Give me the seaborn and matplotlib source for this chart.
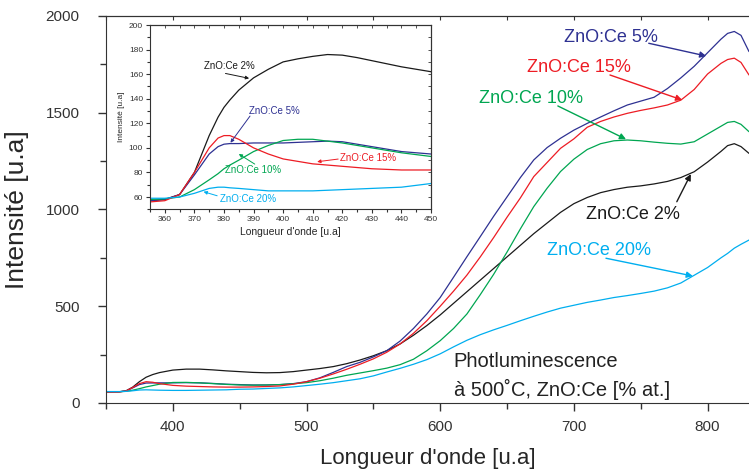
import numpy as np
import pandas as pd
import seaborn as sns
import matplotlib.pyplot as plt
from matplotlib.ticker import MultipleLocator

# wavelength grid
wl = [350, 360, 365, 370, 375, 380, 385, 390, 400, 410, 420, 430, 440, 450, 460, 470, 480, 490,
      500, 510, 520, 530, 540, 550, 560, 570, 580, 590, 600, 610, 620, 630, 640, 650, 660, 670,
      680, 690, 700, 710, 720, 730, 740, 750, 760, 770, 780, 790, 800, 810, 815, 820, 825, 831]

ce2 = [57, 58, 63, 82, 110, 133, 147, 157, 170, 175, 175, 171, 166, 162, 158, 156, 157, 162,
       170, 178, 188, 203, 222, 244, 270, 305, 350, 400, 455, 515, 575, 635, 695, 755, 815, 875,
       930, 985, 1030, 1062, 1087, 1103, 1115, 1122, 1132, 1145, 1165, 1195, 1245, 1300, 1330, 1340, 1325, 1290]
ce5 = [57, 58, 62, 78, 95, 103, 103.5, 104, 104, 105, 104, 101, 97, 95, 93, 93, 95, 100,
       110, 130, 158, 188, 210, 238, 270, 320, 385, 460, 545, 650, 756, 860, 965, 1065, 1165, 1256,
       1320, 1368, 1410, 1445, 1478, 1510, 1540, 1560, 1580, 1625, 1680, 1740, 1810, 1880, 1910, 1920, 1900, 1816]
ce10 = [58, 58.5, 60, 66, 74, 83, 90, 97, 106, 106.5, 104, 100, 96, 93, 92, 93, 95, 99,
        105, 115, 128, 143, 155, 167, 180, 198, 226, 270, 322, 385, 460, 560, 665, 780, 900, 1015,
        1110, 1196, 1260, 1310, 1340, 1355, 1359, 1355, 1348, 1342, 1338, 1350, 1390, 1430, 1450, 1455, 1440, 1402]
ce15 = [56, 57, 62, 80, 100, 110, 107, 100, 91, 87, 85, 83, 82, 82, 83, 85, 88, 97,
        110, 128, 150, 174, 200, 228, 262, 305, 360, 425, 500, 578, 661, 755, 855, 960, 1060, 1170,
        1243, 1316, 1365, 1425, 1455, 1478, 1497, 1512, 1525, 1540, 1565, 1620, 1700, 1755, 1775, 1782, 1760, 1695]
ce20 = [59, 59, 60, 63, 67, 68, 67, 66, 65, 65, 66, 67, 68, 71, 72, 75, 78, 83,
        90, 97, 105, 115, 125, 140, 160, 179, 200, 224, 254, 290, 324, 353, 378, 401, 425, 448,
        470, 490, 505, 520, 532, 545, 555, 566, 578, 595, 620, 660, 700, 750, 773, 800, 820, 842]

# zoomed inset (355-450 nm)
wl_in = [355, 360, 365, 370, 375, 378, 380, 382, 385, 390, 395, 400, 405, 410, 415, 420, 425, 430, 435, 440, 445, 450]
in2 = [57, 58, 62, 80, 110, 125, 133, 139, 147, 157, 164, 170, 172.5, 174.5, 176, 175.5, 173.5, 171, 168.5, 166, 164, 162]
in5 = [57, 58, 62, 78, 95, 101, 103, 103.5, 103.5, 104, 104, 104, 104.5, 105, 105.5, 105, 103, 101, 99, 97, 96, 95]
in10 = [58, 58.5, 60, 66, 74, 79, 83, 86, 90, 97, 102, 106, 107, 107, 105.5, 104, 102, 100, 98, 96, 94.5, 93]
in15 = [56, 57, 62, 80, 100, 108, 110, 110, 107, 100, 95, 91, 89, 87, 86, 85, 84, 83, 82.5, 82, 82, 82]
in20 = [59, 59, 60, 63, 67, 68, 68, 67.5, 67, 66, 65, 65, 65, 65, 65.5, 66, 66.5, 67, 67.5, 68, 69.5, 71]

labels = ['ZnO:Ce 2%', 'ZnO:Ce 5%', 'ZnO:Ce 10%', 'ZnO:Ce 15%', 'ZnO:Ce 20%']
colors = ['#1a1a1a', '#2e3192', '#00a651', '#ed1c24', '#00aeef']

main_df = pd.DataFrame({'wl': wl * 5, 'I': ce2 + ce5 + ce10 + ce15 + ce20,
                        'sample': np.repeat(labels, len(wl))})
inset_df = pd.DataFrame({'wl': wl_in * 5, 'I': in2 + in5 + in10 + in15 + in20,
                         'sample': np.repeat(labels, len(wl_in))})

sns.set_style('ticks')
plt.rcParams['font.family'] = ['Liberation Sans', 'DejaVu Sans']
plt.rcParams['axes.edgecolor'] = '#333333'
plt.rcParams['xtick.color'] = '#333333'
plt.rcParams['ytick.color'] = '#333333'

fig = plt.figure(figsize=(7.49, 4.70), dpi=100)
ax = fig.add_axes([0.1415, 0.1426, 0.8585, 0.8234])
palette = dict(zip(labels, colors))

sns.lineplot(data=main_df, x='wl', y='I', hue='sample', palette=palette, lw=0.9, legend=False, ax=ax)
ax.set_xlim(350, 831)
ax.set_ylim(0, 2000)
ax.xaxis.set_major_locator(MultipleLocator(100))
ax.xaxis.set_minor_locator(MultipleLocator(50))
ax.yaxis.set_major_locator(MultipleLocator(500))
ax.yaxis.set_minor_locator(MultipleLocator(250))
ax.tick_params(which='major', direction='out', length=6, width=1, labelsize=11, pad=6)
ax.tick_params(which='minor', direction='out', length=4, width=1)
ax.tick_params(axis='y', pad=13)
ax.spines['right'].set_visible(False)
ax.set_xlabel("Longueur d'onde [u.a]", fontsize=16, labelpad=10)
ax.set_ylabel('Intensité [u.a]', fontsize=19, labelpad=12)
top = ax.secondary_xaxis('top')
top.xaxis.set_major_locator(MultipleLocator(50))
top.tick_params(direction='in', length=3, labeltop=False)

# main annotations: (text x, text baseline y, arrow start, arrow end)
ann_main = [
    ('ZnO:Ce 5%', 692.5, 1867, (756, 1859), (799, 1793), colors[1]),
    ('ZnO:Ce 15%', 665, 1712, (727, 1695), (781, 1566), colors[3]),
    ('ZnO:Ce 10%', 629, 1549, (688, 1535), (739, 1363), colors[2]),
    ('ZnO:Ce 2%', 709, 949, (777, 1040), (787.5, 1183), colors[0]),
    ('ZnO:Ce 20%', 680, 765, (724, 748), (789, 656), colors[4]),
]
for txt, tx, ty, a0, a1, c in ann_main:
    ax.text(tx, ty, txt, color=c, fontsize=13, ha='left', va='baseline')
    ax.annotate('', xy=a1, xytext=a0,
                arrowprops=dict(arrowstyle='-|>', color=c, lw=1, mutation_scale=9, shrinkA=0, shrinkB=0))

ax.text(610, 184, 'Photluminescence', fontsize=14.5, color='#222222', va='baseline')
ax.text(610, 36, 'à 500˚C, ZnO:Ce [% at.]', fontsize=14.5, color='#222222', va='baseline')

# inset
ins = fig.add_axes([0.2003, 0.5547, 0.3752, 0.392])
sns.lineplot(data=inset_df, x='wl', y='I', hue='sample', palette=palette, lw=0.9, legend=False, ax=ins)
ins.set_xlim(355, 450)
ins.set_ylim(50, 200)
ins.xaxis.set_major_locator(MultipleLocator(10))
ins.xaxis.set_minor_locator(MultipleLocator(5))
ins.yaxis.set_major_locator(MultipleLocator(20))
ins.yaxis.set_minor_locator(MultipleLocator(10))
ins.tick_params(which='major', direction='out', length=3, width=0.8, labelsize=6, pad=2)
ins.tick_params(which='minor', direction='out', length=2, width=0.8)
for s in ins.spines.values():
    s.set_linewidth(0.8)
ins.set_xlabel("Longueur d'onde [u.a]", fontsize=7.5, labelpad=3)
ins.set_ylabel('Intensité [u.a]', fontsize=6, labelpad=3)
itop = ins.secondary_xaxis('top')
itop.xaxis.set_major_locator(MultipleLocator(5))
itop.tick_params(direction='in', length=2, width=0.6, labeltop=False)
iright = ins.secondary_yaxis('right')
iright.yaxis.set_major_locator(MultipleLocator(10))
iright.tick_params(direction='in', length=2, width=0.6, labelright=False)

ann_in = [
    ('ZnO:Ce 2%', 373.2, 163.9, (380.5, 160.6), (388.5, 156.6), colors[0]),
    ('ZnO:Ce 5%', 388.5, 127.5, (388.8, 125.9), (382.2, 104.2), colors[1]),
    ('ZnO:Ce 15%', 419.1, 89.5, (418.6, 90.9), (411.5, 88.7), colors[3]),
    ('ZnO:Ce 10%', 380.5, 79.7, (390.4, 86.8), (385, 95), colors[2]),
    ('ZnO:Ce 20%', 378.5, 56, (377.7, 61), (373.1, 64.3), colors[4]),
]
for txt, tx, ty, a0, a1, c in ann_in:
    ins.text(tx, ty, txt, color=c, fontsize=7, ha='left', va='baseline')
    ins.annotate('', xy=a1, xytext=a0,
                 arrowprops=dict(arrowstyle='-|>', color=c, lw=0.7, mutation_scale=5, shrinkA=0, shrinkB=0))

fig.savefig('out.png', dpi=100)
